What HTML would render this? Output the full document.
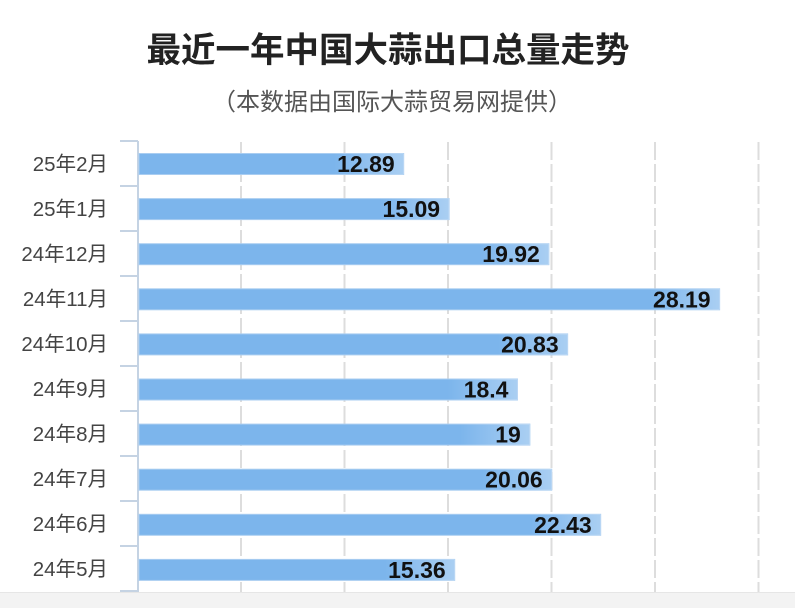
<!DOCTYPE html><html><head><meta charset="utf-8"><style>body{margin:0;background:#fff;width:795px;height:608px;overflow:hidden;font-family:"Liberation Sans","Noto Sans CJK SC",sans-serif}</style></head><body>
<svg width="795" height="608" xmlns="http://www.w3.org/2000/svg" style="position:absolute;left:0;top:0">
<defs><linearGradient id="w" x1="0" x2="1"><stop offset="0" stop-color="#fff" stop-opacity="0"/><stop offset="1" stop-color="#fff" stop-opacity="0.35"/></linearGradient></defs>
<text x="388" y="62" text-anchor="middle" font-size="34.5" font-weight="bold" fill="#222" font-family="'Liberation Sans','Noto Sans CJK SC',sans-serif">最近一年中国大蒜出口总量走势</text>
<text x="392" y="110" text-anchor="middle" font-size="24" fill="#555" font-family="'Liberation Sans','Noto Sans CJK SC',sans-serif">（本数据由国际大蒜贸易网提供）</text>
<g stroke="#ddd" stroke-width="2" stroke-dasharray="18,4">
<line x1="241" y1="142" x2="241" y2="592"/><line x1="344.5" y1="142" x2="344.5" y2="592"/><line x1="448" y1="142" x2="448" y2="592"/><line x1="551.5" y1="142" x2="551.5" y2="592"/><line x1="655" y1="142" x2="655" y2="592"/><line x1="758.5" y1="142" x2="758.5" y2="592"/></g>
<rect x="0" y="593" width="795" height="15" fill="#f3f3f3"/>
<line x1="0" y1="592.5" x2="795" y2="592.5" stroke="#e6e6e6"/>
<g stroke="#c5d3e3" stroke-width="2"><line x1="138" y1="141" x2="138" y2="592"/>
<line x1="120" y1="141" x2="138" y2="141"/><line x1="120" y1="186" x2="138" y2="186"/><line x1="120" y1="231" x2="138" y2="231"/><line x1="120" y1="276" x2="138" y2="276"/><line x1="120" y1="321" x2="138" y2="321"/><line x1="120" y1="366" x2="138" y2="366"/><line x1="120" y1="411" x2="138" y2="411"/><line x1="120" y1="456" x2="138" y2="456"/><line x1="120" y1="501" x2="138" y2="501"/><line x1="120" y1="546" x2="138" y2="546"/><line x1="120" y1="591" x2="138" y2="591"/></g>
<g font-size="20.5" fill="#444" text-anchor="end" font-family="'Liberation Sans','Noto Sans CJK SC',sans-serif">
<text x="108" y="171">25年2月</text><text x="108" y="216">25年1月</text><text x="108" y="261">24年12月</text><text x="108" y="306">24年11月</text><text x="108" y="351">24年10月</text><text x="108" y="396">24年9月</text><text x="108" y="441">24年8月</text><text x="108" y="486">24年7月</text><text x="108" y="531">24年6月</text><text x="108" y="576">24年5月</text></g>
<g id="bars"></g>
</svg>
<script>
var d=[12.89,15.09,19.92,28.19,20.83,18.4,19,20.06,22.43,15.36],s='';
d.forEach(function(v,i){var y=153.5+i*45.1,w=v*20.65-1.5,x=139;
s+='<rect x="'+x+'" y="'+y+'" width="'+w+'" height="21" fill="#7cb5ec" stroke="#a9cdf1" stroke-width="1"/>';
s+='<rect x="'+(x+w-70)+'" y="'+y+'" width="70" height="21" fill="url(#w)"/>';
s+='<text x="'+(x+w-9)+'" y="'+(y+18.5)+'" text-anchor="end" font-size="23" font-weight="bold" fill="#111" font-family="Liberation Sans,sans-serif">'+v+'</text>';});
document.getElementById('bars').innerHTML=s;
</script>
</body></html>
